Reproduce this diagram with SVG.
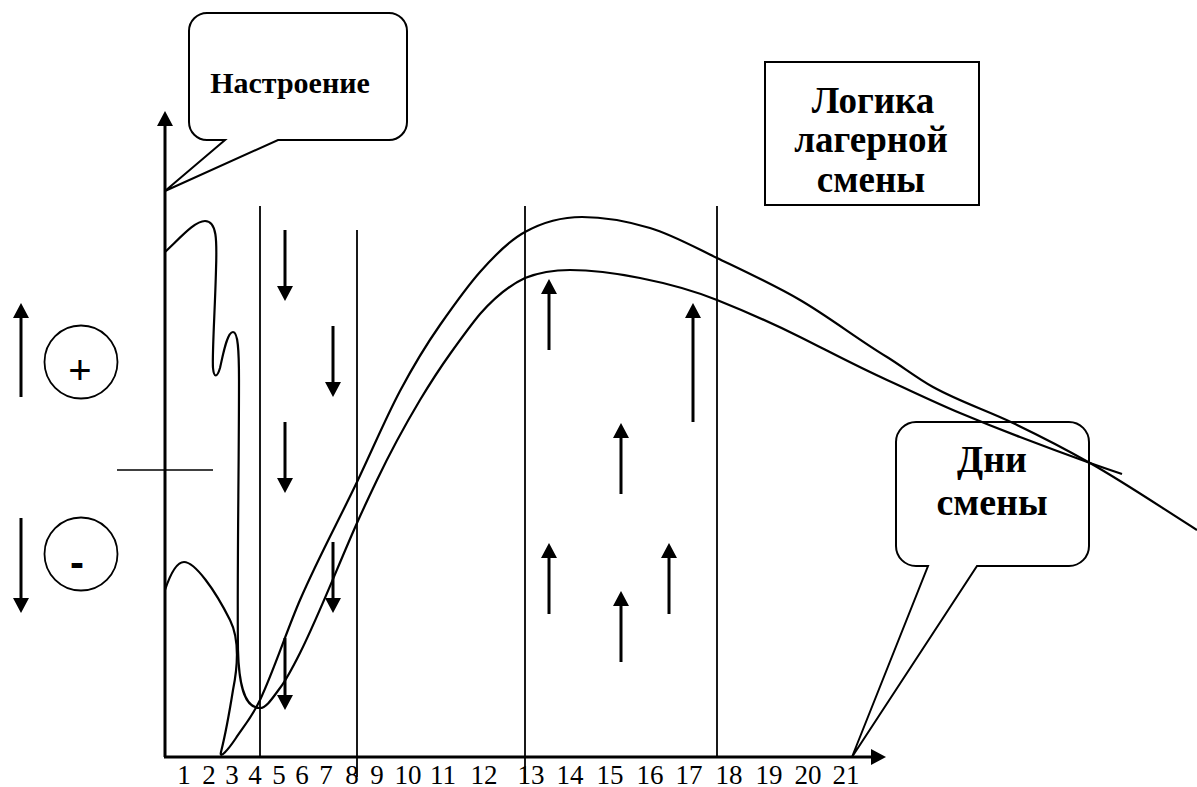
<svg xmlns="http://www.w3.org/2000/svg" width="1197" height="787" viewBox="0 0 1197 787">
<style>
.ln{stroke:#000;fill:none}
.ax{stroke-width:3}
.grid{stroke-width:1.8}
.cur{stroke-width:2.2;fill:none;stroke:#000}
.arr{stroke:#000;stroke-width:3;fill:none}
.bub{fill:none;stroke:#000;stroke-width:2}
.bt{font-family:"Liberation Serif","Times New Roman",serif;font-weight:bold;fill:#000;text-anchor:middle}
.num{font-family:"Liberation Serif","Times New Roman",serif;font-size:27px;fill:#000;text-anchor:middle}
</style>
<defs>
<marker id="ah" markerUnits="userSpaceOnUse" markerWidth="16" markerHeight="16" refX="0" refY="8" orient="auto" overflow="visible">
<path d="M0,0 L15,8 L0,16 Z" fill="#000"/>
</marker>
</defs>
<rect x="0" y="0" width="1197" height="787" fill="#fff"/>

<g id="axes">
<line class="ln ax" x1="165" y1="757" x2="165" y2="126" marker-end="url(#ah)"/>
<line class="ln ax" x1="164" y1="757" x2="871" y2="757" marker-end="url(#ah)"/>
<line class="ln" stroke-width="1.6" x1="117" y1="470" x2="213" y2="470"/>
</g>

<g id="grid">
<line class="ln grid" x1="260" y1="206" x2="260" y2="757"/>
<line class="ln grid" x1="357" y1="230" x2="357" y2="777"/>
<line class="ln grid" x1="525" y1="206" x2="525" y2="783"/>
<line class="ln grid" x1="717" y1="206" x2="717" y2="757"/>
</g>

<g id="day-labels">
<text class="num" x="184" y="784">1</text>
<text class="num" x="209" y="784">2</text>
<text class="num" x="232" y="784">3</text>
<text class="num" x="255" y="784">4</text>
<text class="num" x="279" y="784">5</text>
<text class="num" x="302" y="784">6</text>
<text class="num" x="326" y="784">7</text>
<text class="num" x="352" y="784">8</text>
<text class="num" x="377" y="784">9</text>
<text class="num" x="408" y="784">10</text>
<text class="num" x="443" y="784">11</text>
<text class="num" x="484" y="784">12</text>
<text class="num" x="531" y="784">13</text>
<text class="num" x="570" y="784">14</text>
<text class="num" x="610" y="784">15</text>
<text class="num" x="650" y="784">16</text>
<text class="num" x="689" y="784">17</text>
<text class="num" x="729" y="784">18</text>
<text class="num" x="769" y="784">19</text>
<text class="num" x="808" y="784">20</text>
<text class="num" x="846" y="784">21</text>
</g>

<g id="mood-callout">
<path class="bub" d="M207,13 H389 A18,18 0 0 1 407,31 V122 A18,18 0 0 1 389,140 H278 L165,191 L225,140 H207 A18,18 0 0 1 189,122 V31 A18,18 0 0 1 207,13 Z"/>
<text class="bt" x="290" y="93" font-size="30">Настроение</text>
</g>

<g id="title-box">
<rect x="765" y="62" width="214" height="143" fill="none" stroke="#000" stroke-width="2"/>
<text class="bt" x="873" y="113" font-size="37">Логика</text>
<text class="bt" x="871" y="152" font-size="37">лагерной</text>
<text class="bt" x="871" y="192" font-size="37">смены</text>
</g>

<g id="days-callout">
<path class="bub" d="M916,422 H1069 A20,20 0 0 1 1089,442 V546 A20,20 0 0 1 1069,566 H977 L852,757 L928,566 H916 A20,20 0 0 1 896,546 V442 A20,20 0 0 1 916,422 Z"/>
<text class="bt" x="992" y="472" font-size="38">Дни</text>
<text class="bt" x="992" y="515" font-size="38">смены</text>
</g>

<g id="plus-sign">
<circle cx="81" cy="362" r="36.5" fill="none" stroke="#000" stroke-width="1.8"/>
<text x="80" y="384" font-family="Liberation Sans, Arial, sans-serif" font-size="40" text-anchor="middle" fill="#000">+</text>
</g>
<g id="minus-sign">
<circle cx="81" cy="554" r="36.5" fill="none" stroke="#000" stroke-width="1.8"/>
<text x="77" y="577" font-family="Liberation Sans, Arial, sans-serif" font-weight="bold" font-size="42" text-anchor="middle" fill="#000">-</text>
</g>

<g id="connectors">
<line class="arr" x1="21" y1="397" x2="21" y2="318" marker-end="url(#ah)"/>
<line class="arr" x1="21" y1="518" x2="21" y2="598" marker-end="url(#ah)"/>

<line class="arr" x1="285" y1="230" x2="285" y2="286" marker-end="url(#ah)"/>
<line class="arr" x1="333" y1="326" x2="333" y2="382" marker-end="url(#ah)"/>
<line class="arr" x1="285" y1="422" x2="285" y2="478" marker-end="url(#ah)"/>
<line class="arr" x1="333" y1="542" x2="333" y2="598" marker-end="url(#ah)"/>
<line class="arr" x1="285" y1="638" x2="285" y2="695" marker-end="url(#ah)"/>

<line class="arr" x1="549" y1="350" x2="549" y2="294" marker-end="url(#ah)"/>
<line class="arr" x1="693" y1="422" x2="693" y2="318" marker-end="url(#ah)"/>
<line class="arr" x1="621" y1="494" x2="621" y2="438" marker-end="url(#ah)"/>
<line class="arr" x1="549" y1="614" x2="549" y2="558" marker-end="url(#ah)"/>
<line class="arr" x1="669" y1="614" x2="669" y2="558" marker-end="url(#ah)"/>
<line class="arr" x1="621" y1="662" x2="621" y2="606" marker-end="url(#ah)"/>

<path id="curve-lower" class="cur" d="M165,252 C182,236 195,221 205,221 C217,221 217,240 216,270 C215,310 212,355 213,368 C214,378 217,378 220,368 C223,355 227,332 233,332 C238,332 239,350 239,380 C239,470 237,580 238,650 C239,690 246,708 260,708 C266.7,708 273.3,696.7 280,688 C286.7,679.3 293.3,666.3 300,653 C319,615 338,565.8 357,523 C363.7,508 370.3,494 377,480 C391.3,450 405.7,424 420,400 C430,383.5 440,368 450,354 C460,340 470,326 480,314 C495,297 510,285 525,278 C540,272 555,270 570,270 C593.3,270 616.7,273.3 640,278 C665.7,283.1 691.3,289.7 717,300 C744.7,311.1 772.3,323.2 800,337 C829,351.5 858,367 887,380 C911.3,391 935.7,402.8 960,413 C980,421.4 1000,429.4 1020,437 C1043.3,445.9 1066.7,454.6 1090,463 C1100.7,466.8 1111.3,470.4 1122,474"/>

<path id="curve-upper" class="cur" d="M165,590 C170,575 176,562 184,562 C195,562 215,590 230,620 C240,640 238,665 233,690 C229,715 224,740 221,752 C219,760 228,750 236,738 C244,726 252,716.8 260,700 C273.3,672 286.7,630.7 300,600 C319,556.3 338,521.9 357,482 C371.3,452 385.7,418 400,391 C413.3,366 426.7,344 440,325 C453.3,306 466.7,287 480,272 C495,255 510,240 525,232 C544,221.5 563,217 582,217 C604.7,217 627.3,221.2 650,228 C672.3,234.7 694.7,247.3 717,258 C744.7,271.3 772.3,284 800,300 C829,316.8 858,339.6 887,357 C902.3,366.5 917.7,378.6 933,387 C959.7,401.7 986.3,410.2 1013,423 C1038.7,435.3 1064.3,448.4 1090,463 C1125.7,483.3 1161.3,507.5 1197,530"/>
</g>
</svg>
